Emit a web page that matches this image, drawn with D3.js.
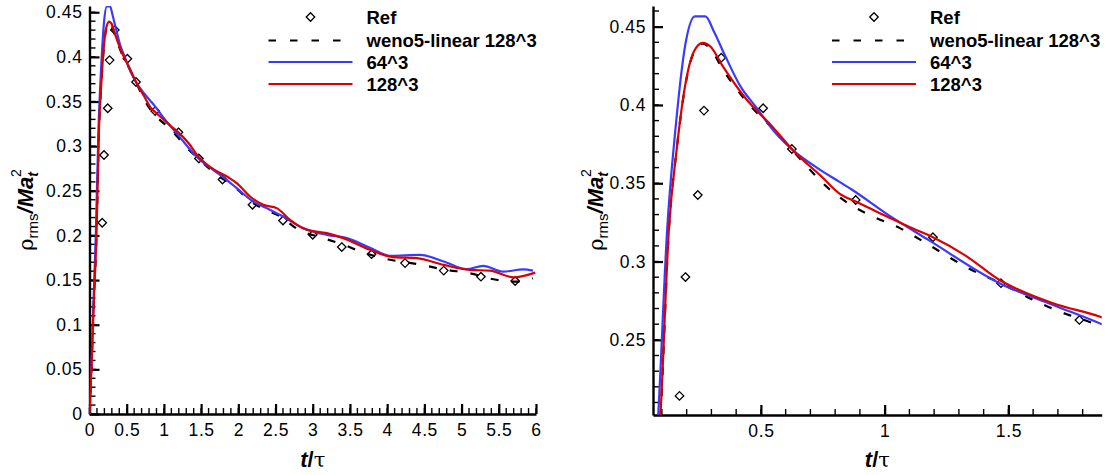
<!DOCTYPE html>
<html>
<head>
<meta charset="utf-8">
<script src="https://cdn.jsdelivr.net/npm/d3@7"></script>
<style>
  body { margin: 0; background: #fff; }
  svg text { font-family: "Liberation Sans", Arial, Helvetica, sans-serif; }
</style>
</head>
<body>
<svg id="chart" width="1106" height="475"></svg>
<script>
// reference points (t/tau, rho_rms/Ma_t^2)
const refData = [
  [0.171, 0.2142], [0.195, 0.2901], [0.245, 0.3425], [0.270, 0.3964], [0.340, 0.4302],
  [0.509, 0.3979], [0.625, 0.3719], [0.883, 0.3393], [1.195, 0.3155], [1.47, 0.2862],
  [1.787, 0.2627], [2.19, 0.2343], [2.6, 0.2167], [3.0, 0.2007], [3.39, 0.187],
  [3.79, 0.179], [4.24, 0.169], [4.76, 0.1606], [5.26, 0.1538], [5.72, 0.149]
];

// weno5-linear 128^3
const wenoData = [
  [0, 0], [0.03, 0.06], [0.06, 0.13], [0.094, 0.2], [0.128, 0.32], [0.16, 0.372],
  [0.192, 0.41], [0.229, 0.4335], [0.265, 0.4392], [0.296, 0.436], [0.343, 0.4235],
  [0.438, 0.403], [0.547, 0.385], [0.628, 0.371], [0.686, 0.3608], [0.747, 0.3505],
  [0.87, 0.3355], [0.964, 0.328], [1.06, 0.3215], [1.18, 0.3105], [1.329, 0.2965],
  [1.49, 0.2845], [1.6, 0.2755], [1.733, 0.2665], [1.815, 0.2622], [1.98, 0.252],
  [2.17, 0.238], [2.36, 0.2287], [2.55, 0.222], [2.81, 0.2063], [3.1, 0.198],
  [3.4, 0.19], [3.68, 0.1809], [4.0, 0.1735], [4.4, 0.168], [4.8, 0.1614],
  [5.11, 0.1577], [5.43, 0.1509], [5.72, 0.1482], [5.96, 0.152]
];

// 64^3
const coarseData = [
  [0, 0], [0.03, 0.065], [0.06, 0.14], [0.085, 0.2016], [0.121, 0.32], [0.155, 0.385],
  [0.195, 0.4389], [0.233, 0.4566], [0.276, 0.4566], [0.31, 0.4469], [0.357, 0.4309],
  [0.418, 0.4117], [0.479, 0.3989], [0.56, 0.3819], [0.628, 0.3713], [0.735, 0.359],
  [0.816, 0.351], [0.87, 0.3457], [1.005, 0.3308], [1.18, 0.3135], [1.464, 0.2862],
  [1.68, 0.2723], [1.868, 0.2606], [1.978, 0.253], [2.2, 0.238], [2.38, 0.2306],
  [2.6, 0.2212], [2.87, 0.2082], [3.19, 0.2007], [3.46, 0.197], [3.77, 0.1863],
  [4.04, 0.1772], [4.44, 0.1783], [4.76, 0.1708], [5.07, 0.1622], [5.29, 0.166],
  [5.56, 0.1595], [5.83, 0.162], [5.96, 0.1606]
];

// 128^3
const fineData = [
  [0, 0], [0.03, 0.06], [0.06, 0.13], [0.094, 0.2016], [0.128, 0.32], [0.16, 0.372],
  [0.192, 0.4107], [0.229, 0.434], [0.265, 0.4396], [0.296, 0.4373], [0.343, 0.4255],
  [0.438, 0.4043], [0.547, 0.386], [0.628, 0.3713], [0.747, 0.354], [0.816, 0.3436],
  [0.883, 0.3383], [1.005, 0.3291], [1.1, 0.322], [1.195, 0.3155], [1.33, 0.3035],
  [1.464, 0.2882], [1.57, 0.28], [1.68, 0.2734], [1.868, 0.2649], [1.978, 0.2586],
  [2.157, 0.2436], [2.336, 0.2343], [2.516, 0.2306], [2.695, 0.2175], [2.92, 0.2063],
  [3.19, 0.2026], [3.41, 0.197], [3.77, 0.184], [4.08, 0.1757], [4.4, 0.1746],
  [4.76, 0.167], [5.11, 0.1614], [5.38, 0.1606], [5.7, 0.1531], [5.99, 0.1584]
];

const legendLabels = ["Ref", "weno5-linear 128^3", "64^3", "128^3"];

// tick labels
const leftXTicks = [0, 0.5, 1, 1.5, 2, 2.5, 3, 3.5, 4, 4.5, 5, 5.5, 6];
const leftYTicks = [0, 0.05, 0.1, 0.15, 0.2, 0.25, 0.3, 0.35, 0.4, 0.45];
const rightXTicks = [0.5, 1, 1.5];
const rightYTicks = [0.25, 0.3, 0.35, 0.4, 0.45];

const BLUE = "#3a3aff", RED = "#dc0000";
const svg = d3.select("#chart");

function minorTicks(lo, hi, step) {
  let out = [];
  for (let k = Math.ceil(lo / step - 1e-9); k * step <= hi + 1e-9; k++) out.push(+(k * step).toFixed(4));
  return out;
}

function drawPanel(p) {
  let x = d3.scaleLinear().domain(p.xDomain).range(p.xRange);
  let y = d3.scaleLinear().domain(p.yDomain).range(p.yRange);
  let g = svg.append("g");

  g.append("clipPath").attr("id", p.id)
    .append("rect")
    .attr("x", p.xRange[0]).attr("y", p.yRange[1])
    .attr("width", p.xRange[1] - p.xRange[0])
    .attr("height", p.yRange[0] - p.yRange[1]);

  // minor ticks, drawn inward
  let x0 = p.xRange[0], y0 = p.yRange[0];
  g.append("g").selectAll("line")
    .data(minorTicks(p.xDomain[0], p.xDomain[1], 0.1))
    .join("line")
    .attr("x1", d => x(d)).attr("x2", d => x(d))
    .attr("y1", y0).attr("y2", y0 - 6)
    .attr("stroke", "#000").attr("stroke-width", 1.4);
  g.append("g").selectAll("line")
    .data(minorTicks(p.yDomain[0], p.yDomain[1], 0.01))
    .join("line")
    .attr("x1", x0).attr("x2", x0 + 6)
    .attr("y1", d => y(d)).attr("y2", d => y(d))
    .attr("stroke", "#000").attr("stroke-width", 1.4);

  // major ticks
  let xa = g.append("g").attr("transform", `translate(0,${p.yRange[0]})`)
    .call(d3.axisBottom(x).tickValues(p.xTicks).tickSize(-10).tickSizeOuter(0).tickPadding(10).tickFormat(d3.format("~g")));
  let ya = g.append("g").attr("transform", `translate(${p.xRange[0]},0)`)
    .call(d3.axisLeft(y).tickValues(p.yTicks).tickSize(-10).tickSizeOuter(0).tickPadding(7).tickFormat(d3.format("~g")));
  [xa, ya].forEach(a => {
    a.select(".domain").attr("stroke-width", 2.4);
    a.selectAll("line").attr("stroke-width", 2.2);
    a.selectAll("text").attr("font-size", 17.5).attr("fill", "#000").attr("letter-spacing", 0.6)
      .attr("font-family", "'Liberation Sans', Arial, sans-serif");
  });

  // data
  let plot = g.append("g").attr("clip-path", `url(#${p.id})`);
  let line = d3.line().x(d => x(d[0])).y(d => y(d[1])).curve(d3.curveMonotoneX);
  let diamond = d3.symbol().type(d3.symbolDiamond2).size(46);

  plot.selectAll("path.ref").data(refData).join("path")
    .attr("class", "ref")
    .attr("d", diamond)
    .attr("transform", d => `translate(${x(d[0])},${y(d[1])})`)
    .attr("fill", "none").attr("stroke", "#000").attr("stroke-width", 1.3);

  plot.append("path").datum(wenoData).attr("d", line)
    .attr("fill", "none").attr("stroke", "#000").attr("stroke-width", 2.2).attr("stroke-dasharray", "8,13");
  plot.append("path").datum(coarseData).attr("d", line)
    .attr("fill", "none").attr("stroke", BLUE).attr("stroke-width", 2.2);
  plot.append("path").datum(fineData).attr("d", line)
    .attr("fill", "none").attr("stroke", RED).attr("stroke-width", 2.2);

  // legend
  let lx = p.xRange[0];
  let rows = [17, 40.5, 62, 84];
  let leg = g.append("g");
  leg.append("path").attr("d", diamond)
    .attr("transform", `translate(${lx + 221},${rows[0]})`)
    .attr("fill", "none").attr("stroke", "#000").attr("stroke-width", 1.3);
  leg.append("line").attr("x1", lx + 179).attr("x2", lx + 254).attr("y1", rows[1]).attr("y2", rows[1])
    .attr("stroke", "#000").attr("stroke-width", 2.2).attr("stroke-dasharray", "7.5,14");
  leg.append("line").attr("x1", lx + 179).attr("x2", lx + 263).attr("y1", rows[2]).attr("y2", rows[2])
    .attr("stroke", BLUE).attr("stroke-width", 2.2);
  leg.append("line").attr("x1", lx + 179).attr("x2", lx + 263).attr("y1", rows[3]).attr("y2", rows[3])
    .attr("stroke", RED).attr("stroke-width", 2.2);
  leg.selectAll("text").data(legendLabels).join("text")
    .attr("x", lx + 277).attr("y", (d, i) => rows[i]).attr("dy", "0.36em")
    .attr("font-size", 18.5).attr("font-weight", "bold").text(d => d);

  // y title
  let yt = g.append("text")
    .attr("transform", `translate(${p.yTitleX},${p.yTitleY}) rotate(-90)`)
    .attr("text-anchor", "middle").attr("font-size", 22);
  yt.append("tspan").attr("font-family", "'DejaVu Serif', serif").attr("font-size", 21).text("ρ");
  yt.append("tspan").attr("font-size", 15).attr("dy", 5).text("rms");
  yt.append("tspan").attr("dy", -5).attr("font-weight", "bold").attr("font-style", "italic").text("/Ma");
  yt.append("tspan").attr("dy", 5).attr("font-size", 14).attr("font-weight", "bold").attr("font-style", "italic").text("t");
  yt.append("tspan").attr("dx", -5).attr("dy", -17).attr("font-size", 14).text("2");

  // x title
  let xt = g.append("text")
    .attr("x", (p.xRange[0] + p.xRange[1]) / 2).attr("y", 467)
    .attr("text-anchor", "middle").attr("font-size", 22);
  xt.append("tspan").attr("font-weight", "bold").attr("font-style", "italic").text("t");
  xt.append("tspan").attr("font-weight", "bold").text("/");
  xt.append("tspan").attr("font-family", "'DejaVu Serif', serif").attr("font-size", 21).text("τ");
}

drawPanel({
  id: "clipL", xDomain: [0, 6], xRange: [89.5, 536], yDomain: [0, 0.457], yRange: [414, 6],
  xTicks: leftXTicks, yTicks: leftYTicks, yTitleX: 33, yTitleY: 210
});
drawPanel({
  id: "clipR", xDomain: [0.064, 1.877], xRange: [653, 1101.7], yDomain: [0.202, 0.4632], yRange: [415, 6],
  xTicks: rightXTicks, yTicks: rightYTicks, yTitleX: 603, yTitleY: 210
});
</script>
</body>
</html>
